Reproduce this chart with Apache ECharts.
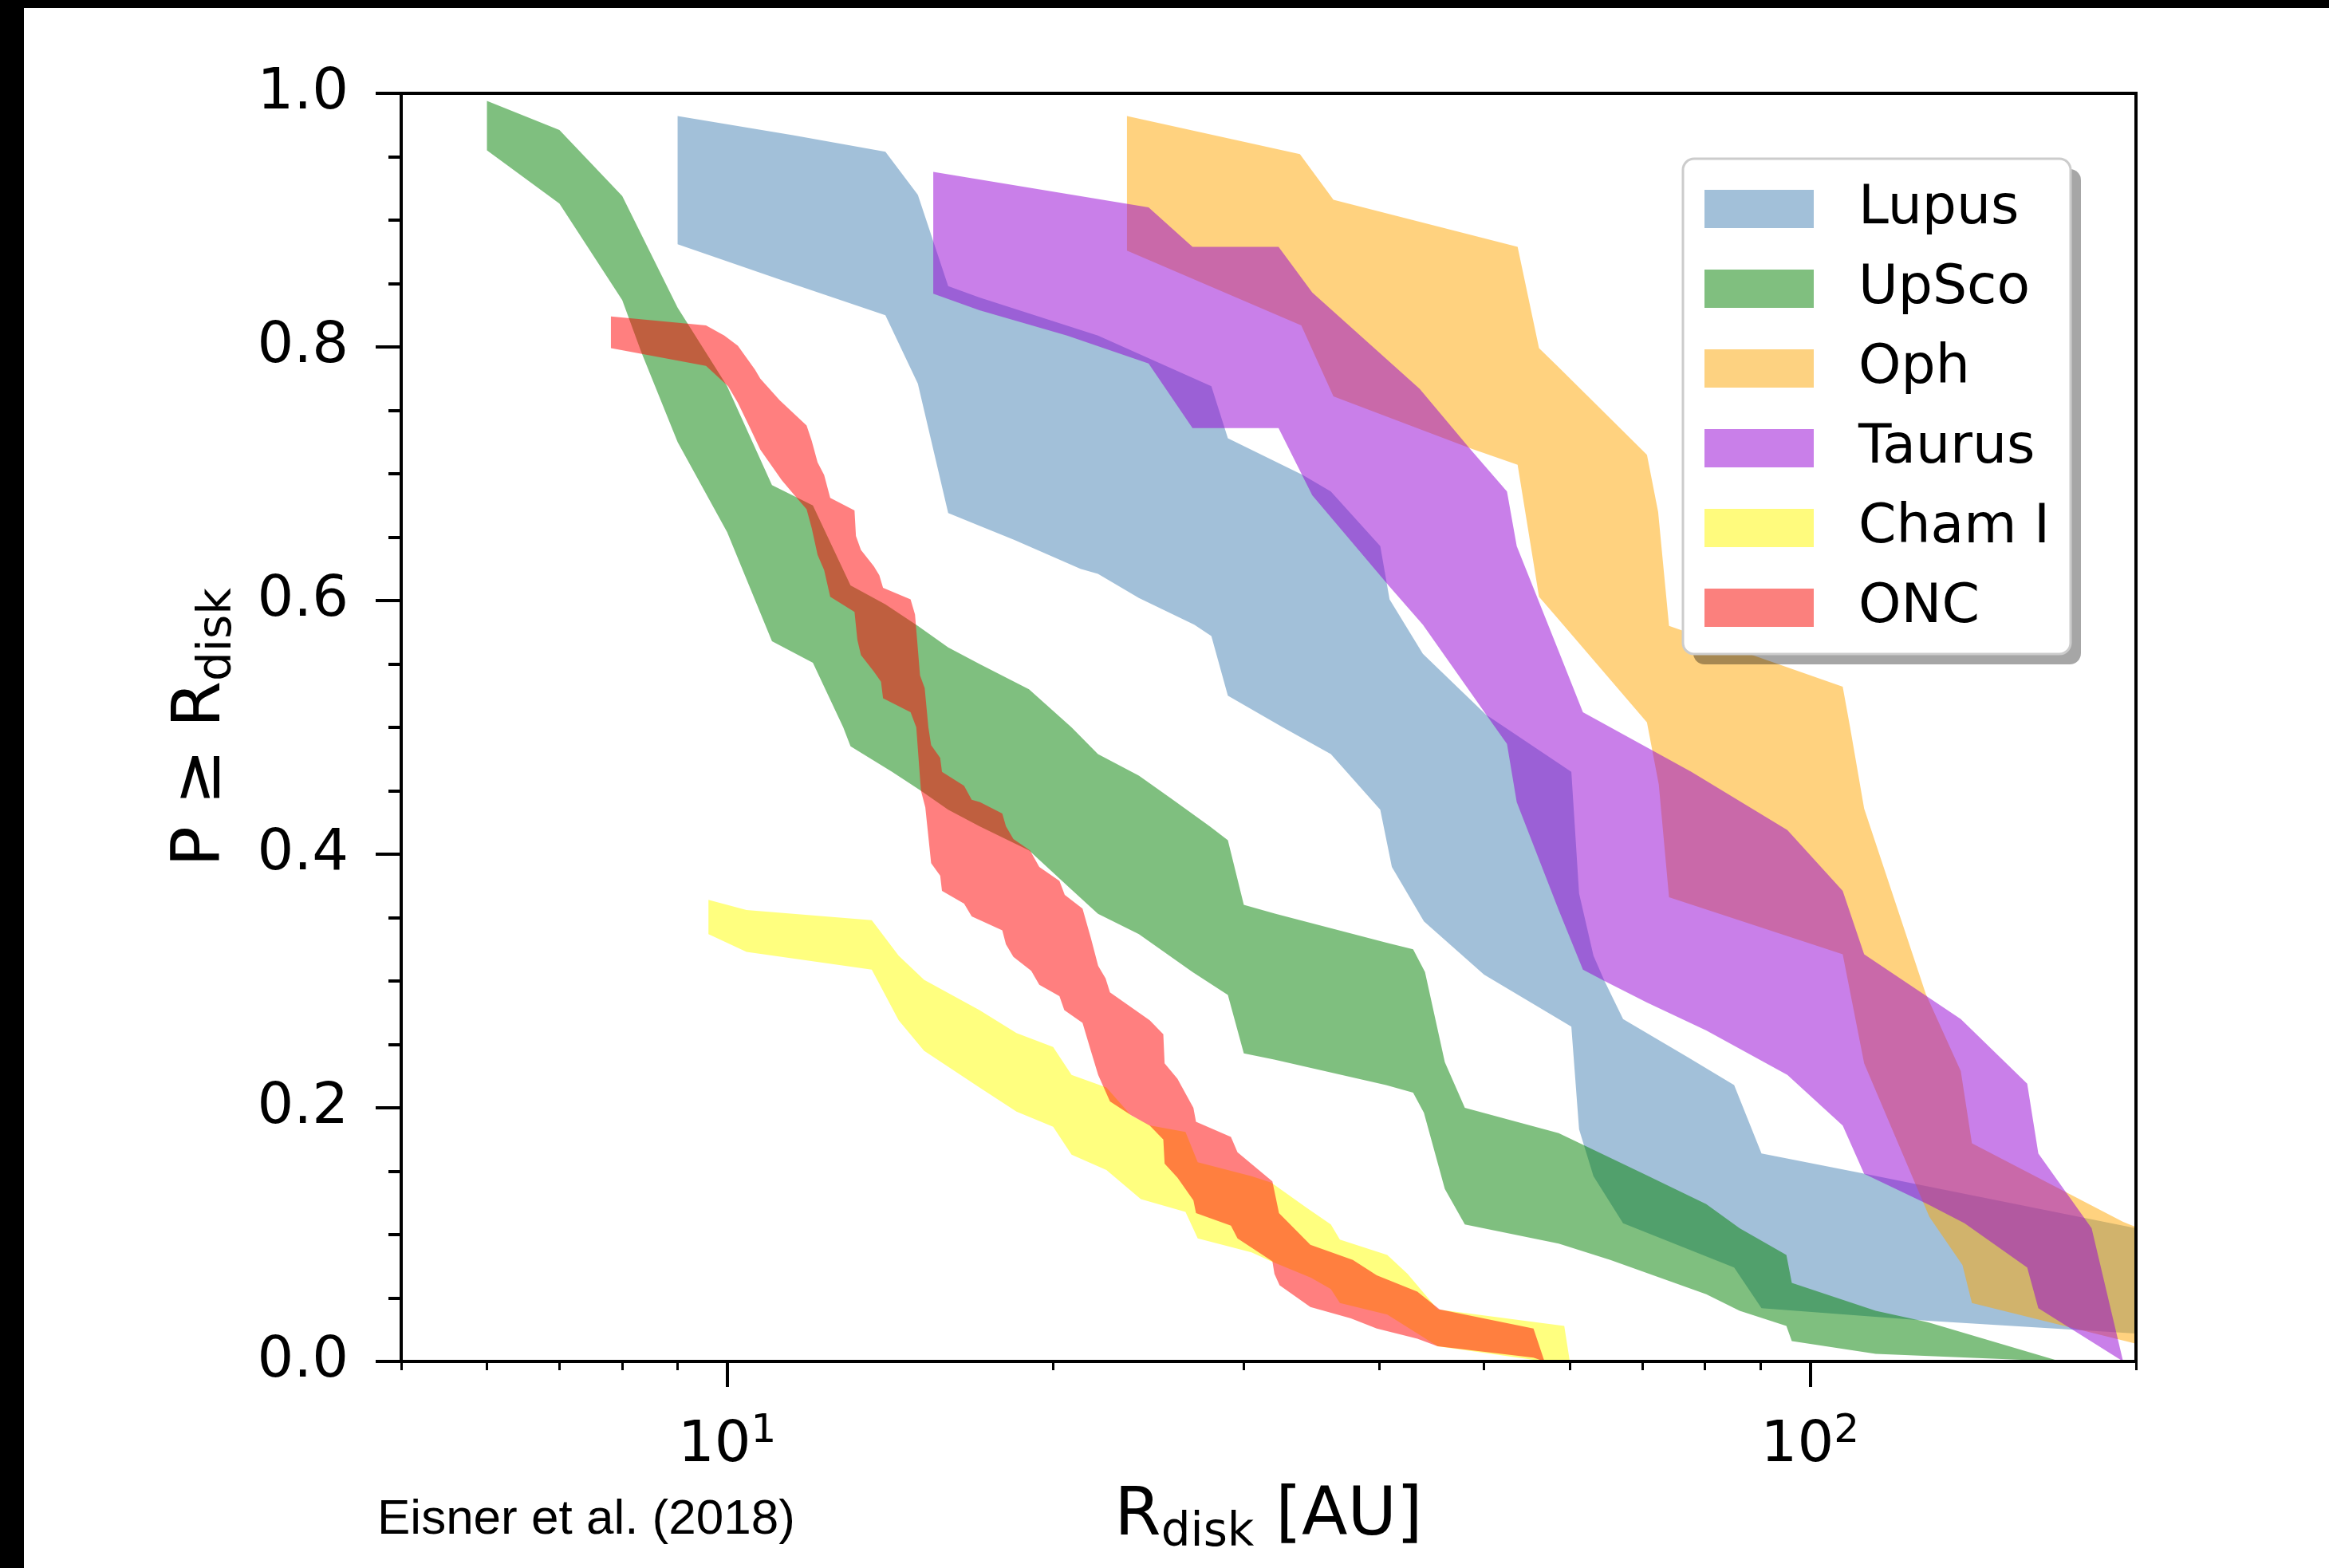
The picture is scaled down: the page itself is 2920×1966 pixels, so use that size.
<!DOCTYPE html>
<html>
<head>
<meta charset="utf-8">
<script src="https://cdn.jsdelivr.net/npm/echarts@6/dist/echarts.min.js"></script>
<style>
html,body{margin:0;padding:0;background:#000;width:2920px;height:1966px;overflow:hidden;}
#chart{position:absolute;left:30px;top:10px;width:2890px;height:1956px;background:#fff;}
</style>
</head>
<body>
<div id="chart"></div>
<script>
// ---- data (R in AU, P >= R) ----
const categories = ['Lupus', 'UpSco', 'Oph', 'Taurus', 'Cham I', 'ONC'];
const baseColors = ['#4682b4', '#008000', '#ffa500', '#9400d3', '#ffff00', '#ff0000'];
const legendColors = ['#a2c0d9', '#80bf7f', '#fdd281', '#c97fe9', '#fffb7d', '#fb807d'];
const xMajorTicks = [10, 100];
const xMinorTicks = [5, 6, 7, 8, 9, 20, 30, 40, 50, 60, 70, 80, 90, 200];
const yTickLabels = ['0.0', '0.2', '0.4', '0.6', '0.8', '1.0'];

const lupusUpper = [[9.0,0.982],[11.5,0.967],[14.0,0.954],[15.0,0.920],[16.0,0.848],[17.1,0.839],[22.0,0.809],[28.0,0.769],[29.0,0.728],[34.0,0.699],[36.1,0.686],[40.1,0.643],[40.9,0.601],[43.9,0.558],[50.2,0.510],[60.2,0.465],[61.2,0.369],[63.1,0.320],[64.6,0.300],[67.2,0.270],[77.1,0.240],[85.1,0.218],[90.2,0.164],[112.4,0.148],[200,0.105]];
const lupusLower = [[9.0,0.881],[11.2,0.853],[14.0,0.825],[15.0,0.771],[16.0,0.669],[17.1,0.659],[18.4,0.648],[21.2,0.625],[22.0,0.621],[24.0,0.602],[27.0,0.581],[28.0,0.572],[29.0,0.525],[32.6,0.500],[36.1,0.479],[40.1,0.435],[41.1,0.390],[44.0,0.347],[50.0,0.305],[58.6,0.270],[60.2,0.264],[61.2,0.183],[63.1,0.146],[67.2,0.109],[85.1,0.074],[90.2,0.042],[128.4,0.032],[200,0.022]];

const upscoUpper = [[6.0,0.994],[7.0,0.971],[8.0,0.919],[9.0,0.831],[10.0,0.769],[11.0,0.691],[12.0,0.675],[13.0,0.612],[14.0,0.597],[15.0,0.580],[16.0,0.563],[17.1,0.550],[19.0,0.530],[20.8,0.500],[22.0,0.479],[24.0,0.462],[25.8,0.443],[27.9,0.422],[29.0,0.411],[30.0,0.360],[32.1,0.353],[40.7,0.330],[43.0,0.325],[44.1,0.307],[46.0,0.236],[48.0,0.200],[58.6,0.180],[70.2,0.148],[80.2,0.124],[86.1,0.105],[95.1,0.084],[96.2,0.062],[115,0.040],[128.4,0.031],[170.3,0]];
const upscoLower = [[6.0,0.955],[7.0,0.913],[8.0,0.837],[8.33,0.796],[9.0,0.725],[10.0,0.654],[11.0,0.568],[12.0,0.551],[12.8,0.500],[13.0,0.485],[14.2,0.465],[15.1,0.450],[16.0,0.435],[17.1,0.422],[19.0,0.403],[20.8,0.372],[22.0,0.353],[24.0,0.337],[26.9,0.307],[29.0,0.289],[30.0,0.243],[32.0,0.238],[40.6,0.218],[43.0,0.212],[44.0,0.196],[46.0,0.136],[48.0,0.108],[58.6,0.093],[65.4,0.080],[80.2,0.053],[86.1,0.040],[95.1,0.028],[96.2,0.016],[115,0.006],[170.3,0]];

const ophUpper = [[23.4,0.982],[33.8,0.952],[36.3,0.916],[53.7,0.879],[56.2,0.799],[58.6,0.784],[70.7,0.715],[72.4,0.670],[74.1,0.580],[107.2,0.532],[108.9,0.500],[112.2,0.436],[127.9,0.290],[137.8,0.229],[141.1,0.172],[194.6,0.110],[200,0.106]];
const ophLower = [[23.4,0.876],[33.9,0.817],[36.3,0.761],[48.6,0.720],[53.7,0.707],[56.2,0.603],[58.6,0.585],[70.7,0.504],[72.5,0.455],[74.1,0.366],[107.2,0.321],[112.2,0.235],[128.9,0.114],[138.3,0.076],[141.1,0.046],[200,0.014]];

const taurusUpper = [[15.5,0.938],[24.5,0.910],[26.9,0.879],[32.3,0.879],[34.7,0.843],[43.6,0.767],[48.6,0.719],[52.5,0.686],[53.6,0.643],[58.6,0.560],[61.7,0.512],[77.7,0.465],[95.3,0.419],[107.2,0.371],[112.2,0.321],[137.8,0.270],[158.7,0.219],[162.5,0.164],[182,0.105],[194.6,0]];
const taurusLower = [[15.5,0.842],[17.1,0.829],[20.6,0.809],[24.5,0.787],[26.9,0.736],[32.3,0.736],[34.7,0.683],[40.9,0.611],[43.9,0.581],[51.2,0.500],[52.5,0.487],[53.6,0.441],[58.6,0.356],[61.7,0.309],[64.6,0.300],[70.7,0.283],[80.2,0.261],[95.3,0.226],[107.2,0.186],[112.2,0.148],[128.4,0.124],[138.9,0.109],[158.7,0.074],[162.5,0.042],[194.6,0]];

const chamUpper = [[9.61,0.364],[10.42,0.356],[13.6,0.348],[14.4,0.320],[15.2,0.301],[17.1,0.277],[18.5,0.259],[20.0,0.248],[20.8,0.226],[22.4,0.216],[23.6,0.194],[24.6,0.186],[26.5,0.181],[27.2,0.157],[30.5,0.146],[31.8,0.141],[34.3,0.121],[36.1,0.108],[36.8,0.096],[40.7,0.084],[42.5,0.069],[45.3,0.041],[59.3,0.028],[60.0,0]];
const chamLower = [[9.61,0.337],[10.42,0.323],[13.6,0.309],[14.4,0.269],[15.2,0.245],[17.1,0.216],[18.5,0.197],[20.0,0.185],[20.8,0.163],[22.4,0.151],[24.1,0.128],[26.5,0.118],[27.2,0.097],[30.5,0.086],[31.8,0.079],[34.6,0.066],[36.1,0.057],[36.8,0.046],[40.7,0.037],[43.4,0.022],[45.3,0.012],[56.9,0]];

const oncUpper = [[7.81,0.824],[9.56,0.817],[9.94,0.809],[10.23,0.801],[10.61,0.782],[10.73,0.775],[11.18,0.758],[11.84,0.738],[11.97,0.726],[12.12,0.709],[12.29,0.699],[12.45,0.681],[13.11,0.671],[13.15,0.651],[13.29,0.640],[13.66,0.627],[13.82,0.620],[13.93,0.610],[14.77,0.601],[14.91,0.589],[15.07,0.541],[15.22,0.531],[15.34,0.500],[15.43,0.486],[15.73,0.476],[15.79,0.465],[16.55,0.454],[16.82,0.443],[17.12,0.441],[17.95,0.432],[18.09,0.422],[18.38,0.412],[19.04,0.403],[19.42,0.390],[20.27,0.379],[20.5,0.368],[21.29,0.357],[21.67,0.334],[22.01,0.312],[22.36,0.302],[22.57,0.291],[24.56,0.269],[25.28,0.258],[25.35,0.235],[26.05,0.223],[26.95,0.200],[27.1,0.189],[29.19,0.177],[29.6,0.165],[31.88,0.142],[32.33,0.117],[34.56,0.092],[37.83,0.080],[39.8,0.068],[43.39,0.055],[45.49,0.041],[55.54,0.026],[56.86,0]];
const oncLower = [[7.81,0.799],[9.56,0.785],[10.02,0.769],[10.23,0.756],[10.50,0.736],[10.73,0.719],[11.23,0.695],[11.54,0.683],[11.84,0.672],[11.97,0.657],[12.12,0.636],[12.29,0.624],[12.45,0.603],[13.11,0.591],[13.19,0.569],[13.29,0.557],[13.66,0.544],[13.87,0.536],[13.93,0.523],[14.77,0.512],[14.95,0.500],[15.1,0.450],[15.24,0.437],[15.43,0.393],[15.73,0.383],[15.79,0.371],[16.55,0.361],[16.82,0.351],[17.12,0.348],[17.95,0.340],[18.09,0.329],[18.38,0.319],[19.09,0.308],[19.42,0.297],[20.27,0.288],[20.48,0.277],[21.29,0.267],[21.67,0.245],[22.01,0.226],[22.57,0.205],[23.62,0.194],[24.56,0.186],[25.28,0.175],[25.35,0.156],[26.05,0.145],[26.95,0.127],[27.1,0.117],[29.19,0.107],[29.6,0.097],[31.88,0.079],[32.02,0.069],[32.37,0.060],[34.56,0.043],[37.67,0.034],[39.8,0.026],[43.39,0.018],[45.31,0.012],[55.54,0.003],[56.86,0]];

const bands = [
  [lupusUpper, lupusLower],
  [upscoUpper, upscoLower],
  [ophUpper, ophLower],
  [taurusUpper, taurusLower],
  [chamUpper, chamLower],
  [oncUpper, oncLower]
];

// ---- chart ----
const FONT = 'DejaVu Sans';
const chart = echarts.init(document.getElementById('chart'), null, { renderer: 'canvas' });

function bandSeries(name, color, upper, lower) {
  const poly = upper.concat(lower.slice().reverse());
  return {
    type: 'custom',
    name: name,
    coordinateSystem: 'cartesian2d',
    xAxisIndex: 0,
    yAxisIndex: 0,
    data: poly,
    encode: { x: 0, y: 1 },
    clip: true,
    silent: true,
    animation: false,
    itemStyle: { color: color, opacity: 0.5 },
    renderItem: function (params, api) {
      if (params.dataIndex !== 0) return null;
      const pts = poly.map(function (p) { return api.coord(p); });
      return {
        type: 'polygon',
        shape: { points: pts },
        style: { fill: color, opacity: 0.5, stroke: null }
      };
    }
  };
}

const series = categories.map(function (name, i) {
  return bandSeries(name, baseColors[i], bands[i][0], bands[i][1]);
});

// legend frame geometry (container pixels)
const LEG_X = 2080, LEG_Y = 189, LEG_W = 486, LEG_H = 621;

const option = {
  animation: false,
  backgroundColor: '#fff',
  grid: {
    left: 473, top: 107, width: 2175, height: 1590,
    show: true, borderColor: '#000', borderWidth: 4, backgroundColor: 'transparent', z: 10
  },
  xAxis: [
    {
      type: 'log', logBase: 10, min: 5, max: 200, position: 'bottom', z: 10,
      axisLine: { show: true, lineStyle: { color: '#000', width: 4 } },
      axisTick: { show: true, customValues: xMajorTicks, length: 32, lineStyle: { color: '#000', width: 4 } },
      minorTick: { show: false },
      splitLine: { show: false },
      axisLabel: {
        customValues: xMajorTicks, margin: 63, color: '#000',
        formatter: function (v) { return '{m|10}{s|' + Math.round(Math.log10(v)) + '}'; },
        rich: {
          m: { fontFamily: FONT, fontSize: 72, lineHeight: 86, color: '#000' },
          s: { fontFamily: FONT, fontSize: 50, lineHeight: 44, verticalAlign: 'top', color: '#000' }
        }
      },
      name: '{m|R}{s|disk}{m| [AU]}',
      nameLocation: 'middle',
      nameGap: 145,
      nameTextStyle: {
        rich: {
          m: { fontFamily: FONT, fontSize: 84, lineHeight: 100, color: '#000' },
          s: { fontFamily: FONT, fontSize: 58, lineHeight: 52, verticalAlign: 'bottom', color: '#000' }
        }
      }
    },
    {
      type: 'log', logBase: 10, min: 5, max: 200, position: 'bottom', z: 10,
      axisLine: { show: false },
      axisTick: { show: true, customValues: xMinorTicks, length: 11, lineStyle: { color: '#000', width: 3 } },
      axisLabel: { show: false },
      splitLine: { show: false }
    }
  ],
  yAxis: {
    type: 'value', min: 0, max: 1, interval: 0.2, z: 10,
    axisLine: { show: true, lineStyle: { color: '#000', width: 4 } },
    axisTick: { show: true, length: 32, lineStyle: { color: '#000', width: 4 } },
    minorTick: { show: true, splitNumber: 4, length: 16, lineStyle: { color: '#000', width: 4 } },
    splitLine: { show: false },
    axisLabel: {
      margin: 66, color: '#000', fontFamily: FONT, fontSize: 72,
      formatter: function (v) { return yTickLabels[Math.round(v / 0.2)]; }
    },
    name: '{m|P ≥ R}{s|disk}',
    nameLocation: 'middle',
    nameRotate: 90,
    nameGap: 200,
    nameTextStyle: {
      rich: {
        m: { fontFamily: FONT, fontSize: 84, lineHeight: 100, color: '#000' },
        s: { fontFamily: FONT, fontSize: 58, lineHeight: 52, verticalAlign: 'bottom', color: '#000' }
      }
    }
  },
  legend: {
    orient: 'vertical', left: LEG_X, top: LEG_Y, z: 30,
    itemWidth: 137, itemHeight: 48, itemGap: 32,
    padding: [29, 26, 30, 27],
    backgroundColor: 'transparent', borderWidth: 0,
    selectedMode: false,
    textStyle: { fontFamily: FONT, fontSize: 68, color: '#000', lineHeight: 60, padding: [0, 0, 0, 51] },
    data: categories.map(function (n, i) {
      return { name: n, icon: 'rect', itemStyle: { color: legendColors[i], opacity: 1, borderWidth: 0 } };
    })
  },
  graphic: [
    {
      type: 'rect', z: 20, silent: true,
      shape: { x: LEG_X + 13, y: LEG_Y + 13, width: LEG_W, height: LEG_H, r: 14 },
      style: { fill: 'rgba(0,0,0,0.35)' }
    },
    {
      type: 'rect', z: 21, silent: true,
      shape: { x: LEG_X, y: LEG_Y, width: LEG_W, height: LEG_H, r: 14 },
      style: { fill: '#fff', stroke: '#cccccc', lineWidth: 3 }
    },
    {
      type: 'text', x: 443, y: 1896, z: 100,
      style: { text: 'Eisner et al. (2018)', fontFamily: 'Liberation Sans', fontSize: 62, fill: '#000', align: 'left', verticalAlign: 'middle' }
    }
  ],
  series: series
};
chart.setOption(option);
</script>
</body>
</html>
